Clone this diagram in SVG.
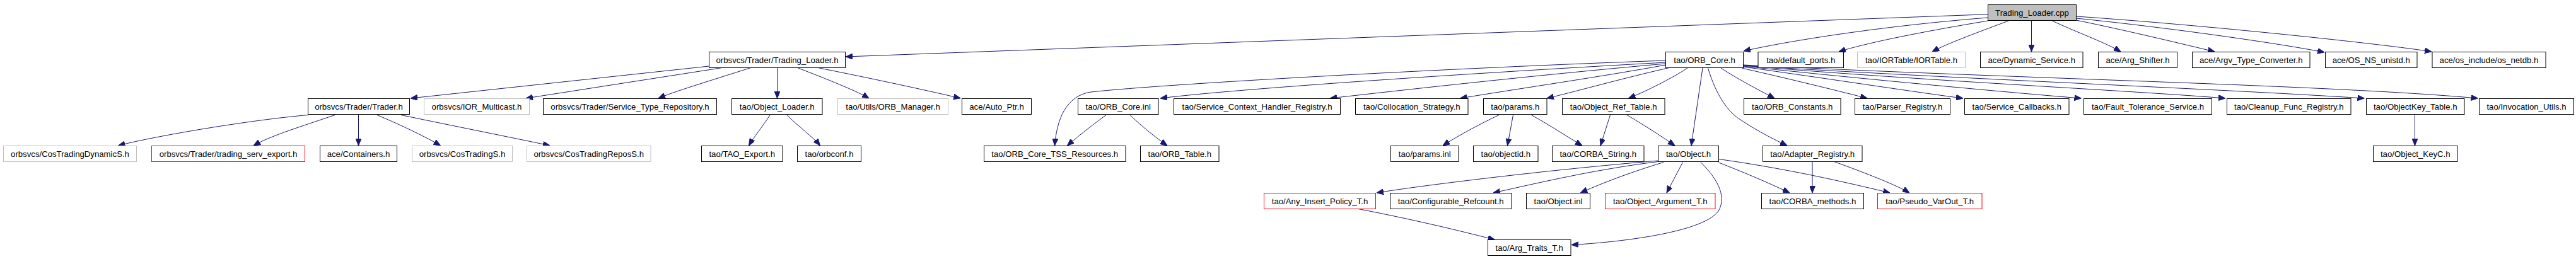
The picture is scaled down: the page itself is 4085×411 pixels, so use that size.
<svg xmlns="http://www.w3.org/2000/svg" width="4085" height="411" viewBox="0 0 4085 411">
<style>
.n rect{fill:#ffffff;stroke:#000000;stroke-width:1}
.n.g rect{stroke:#bfbfbf}
.n.r rect{stroke:#ff0000}
.n.root rect{fill:#bfbfbf;stroke:#000000}
.n text{font-family:"Liberation Sans",Arial,Helvetica,sans-serif;font-size:13.2px;fill:#000000;text-anchor:middle}
#edges path{fill:none;stroke:#191970;stroke-width:1;marker-end:url(#ah)}
</style>
<defs>
<marker id="ah" markerUnits="userSpaceOnUse" markerWidth="11" markerHeight="9" refX="11" refY="4.5" orient="auto">
<path d="M0,0 L11,4.5 L0,9 z" fill="#191970" stroke="#191970" stroke-width="1"/>
</marker>
</defs>
<rect width="4085" height="411" fill="#ffffff"/>
<g id="edges">
<path d="M3152.5,22.7 L1341,90"/>
<path d="M3152.5,28 C3000,40 2850,62 2765,81"/>
<path d="M3152.5,33 C3050,50 2960,68 2916,82"/>
<path d="M3186.5,32.5 C3140,50 3090,68 3064,82"/>
<path d="M3221.5,32.5 L3221.5,82"/>
<path d="M3253.5,32.5 C3290,50 3340,68 3363,82"/>
<path d="M3292.5,32 C3380,50 3470,72 3512,82"/>
<path d="M3292.5,29 C3450,45 3620,70 3686,83"/>
<path d="M3292.5,26 C3500,40 3780,70 3856,82"/>
<path d="M1124.5,105 L651,156"/>
<path d="M1144,107.7 L834,156"/>
<path d="M1190,107.7 C1120,130 1070,145 1044,156"/>
<path d="M1232.5,107.5 L1232.5,156"/>
<path d="M1265,107.7 C1310,125 1360,145 1378,156"/>
<path d="M1298,107.7 C1400,128 1490,148 1523,156"/>
<path d="M488.5,182.5 C400,190 250,215 187.5,231"/>
<path d="M531,182.5 C480,200 430,215 402,231"/>
<path d="M568.5,182 L568.5,231"/>
<path d="M598,182.5 C640,200 680,220 698.5,231"/>
<path d="M636,182.5 C720,200 820,220 872,231"/>
<path d="M1221,182.5 C1210,200 1195,218 1187.5,231"/>
<path d="M1248,182.5 C1265,200 1290,218 1300.5,231"/>
<path d="M2641.5,96 C2300,108 1850,133 1730,146 C1690,152 1676,190 1672.5,231"/>
<path d="M2641.5,99 C2300,118 1950,142 1840,156"/>
<path d="M2641.5,101 C2450,118 2250,140 2109,156"/>
<path d="M2641.5,103 C2550,120 2400,142 2315.5,156"/>
<path d="M2647,107.5 C2570,125 2500,145 2453,156"/>
<path d="M2676,108 C2650,125 2610,145 2582.5,156"/>
<path d="M2700,108 L2682,231"/>
<path d="M2708.5,108 C2718,140 2735,175 2760,190 C2790,210 2815,222 2834,231"/>
<path d="M2729,108 C2760,128 2795,146 2814,156"/>
<path d="M2762,108 C2850,128 2930,148 2961,156"/>
<path d="M2764.5,106 C2900,125 3050,148 3113,156"/>
<path d="M2764.5,105 C2950,125 3200,148 3300.5,156"/>
<path d="M2764.5,104 C3000,125 3400,145 3529,156"/>
<path d="M2764.5,104 C3100,125 3500,140 3749.5,156"/>
<path d="M2764.5,103 C3200,125 3700,135 3929.5,156"/>
<path d="M1754,182.5 C1730,200 1705,220 1692.5,231"/>
<path d="M1792,182.5 C1810,200 1835,220 1851,231"/>
<path d="M2377,182.5 C2340,200 2305,220 2288,231"/>
<path d="M2399.5,182.5 L2390.5,231"/>
<path d="M2428.5,182.5 C2460,200 2490,220 2509,231"/>
<path d="M2553.5,182.5 L2538,231"/>
<path d="M2580,182.5 C2610,200 2640,220 2656,231"/>
<path d="M2629.5,255 C2450,270 2250,295 2183,306"/>
<path d="M2629.5,256.5 C2520,270 2420,295 2368,306"/>
<path d="M2638,257.5 C2580,275 2530,295 2506.5,306"/>
<path d="M2668.5,257.5 L2643,306"/>
<path d="M2697,257.5 C2720,280 2740,310 2725,335 C2700,370 2560,385 2492,388.5"/>
<path d="M2725.5,258 C2770,275 2815,295 2838,306"/>
<path d="M2725.5,252.5 C2850,270 2950,295 2997,306"/>
<path d="M2154,331.5 C2250,350 2330,370 2370.5,380.5"/>
<path d="M2874,256.5 L2874,306"/>
<path d="M2908.5,256.5 C2960,275 3010,295 3028,306"/>
<path d="M3829.5,182.5 L3829.5,231"/>
</g>
<g id="n_root" class="n root"><rect x="3152.5" y="7.5" width="140" height="25"/><text x="3222.5" y="24.5">Trading_Loader.cpp</text></g>
<g id="n_trading_loader_h" class="n"><rect x="1124.5" y="82.5" width="216" height="25"/><text x="1232.5" y="99.5">orbsvcs/Trader/Trading_Loader.h</text></g>
<g id="n_orb_core_h" class="n"><rect x="2641.5" y="82.5" width="123" height="25"/><text x="2703" y="99.5">tao/ORB_Core.h</text></g>
<g id="n_default_ports" class="n"><rect x="2788" y="82.5" width="135.5" height="25"/><text x="2855.75" y="99.5">tao/default_ports.h</text></g>
<g id="n_iortable" class="n g"><rect x="2945.5" y="82.5" width="171" height="25"/><text x="3031" y="99.5">tao/IORTable/IORTable.h</text></g>
<g id="n_dynamic_service" class="n"><rect x="3140.5" y="82.5" width="162.5" height="25"/><text x="3221.75" y="99.5">ace/Dynamic_Service.h</text></g>
<g id="n_arg_shifter" class="n"><rect x="3327.5" y="82.5" width="125" height="25"/><text x="3390" y="99.5">ace/Arg_Shifter.h</text></g>
<g id="n_argv_type_converter" class="n"><rect x="3476.5" y="82.5" width="186.5" height="25"/><text x="3569.75" y="99.5">ace/Argv_Type_Converter.h</text></g>
<g id="n_os_ns_unistd" class="n"><rect x="3687.5" y="82.5" width="145.5" height="25"/><text x="3760.25" y="99.5">ace/OS_NS_unistd.h</text></g>
<g id="n_os_netdb" class="n"><rect x="3857" y="82.5" width="180" height="25"/><text x="3947" y="99.5">ace/os_include/os_netdb.h</text></g>
<g id="n_trader_h" class="n"><rect x="488.5" y="156.5" width="161" height="25"/><text x="569" y="173.5">orbsvcs/Trader/Trader.h</text></g>
<g id="n_ior_multicast" class="n g"><rect x="672.5" y="156.5" width="167" height="25"/><text x="756" y="173.5">orbsvcs/IOR_Multicast.h</text></g>
<g id="n_service_type_repository" class="n"><rect x="861.5" y="156.5" width="275" height="25"/><text x="999" y="173.5">orbsvcs/Trader/Service_Type_Repository.h</text></g>
<g id="n_object_loader" class="n"><rect x="1160.5" y="156.5" width="143.5" height="25"/><text x="1232.25" y="173.5">tao/Object_Loader.h</text></g>
<g id="n_orb_manager" class="n g"><rect x="1328.5" y="156.5" width="175" height="25"/><text x="1416" y="173.5">tao/Utils/ORB_Manager.h</text></g>
<g id="n_auto_ptr" class="n"><rect x="1525.5" y="156.5" width="110" height="25"/><text x="1580.5" y="173.5">ace/Auto_Ptr.h</text></g>
<g id="n_orb_core_inl" class="n"><rect x="1709.5" y="156.5" width="127.5" height="25"/><text x="1773.25" y="173.5">tao/ORB_Core.inl</text></g>
<g id="n_service_context" class="n"><rect x="1861.5" y="156.5" width="264" height="25"/><text x="1993.5" y="173.5">tao/Service_Context_Handler_Registry.h</text></g>
<g id="n_collocation" class="n"><rect x="2149.5" y="156.5" width="178.5" height="25"/><text x="2238.75" y="173.5">tao/Collocation_Strategy.h</text></g>
<g id="n_params_h" class="n"><rect x="2352.5" y="156.5" width="100.5" height="25"/><text x="2402.75" y="173.5">tao/params.h</text></g>
<g id="n_object_ref_table" class="n"><rect x="2477.5" y="156.5" width="162.5" height="25"/><text x="2558.75" y="173.5">tao/Object_Ref_Table.h</text></g>
<g id="n_orb_constants" class="n"><rect x="2765.5" y="156.5" width="153.5" height="25"/><text x="2842.25" y="173.5">tao/ORB_Constants.h</text></g>
<g id="n_parser_registry" class="n"><rect x="2941.5" y="156.5" width="151" height="25"/><text x="3017" y="173.5">tao/Parser_Registry.h</text></g>
<g id="n_service_callbacks" class="n"><rect x="3115.5" y="156.5" width="165.5" height="25"/><text x="3198.25" y="173.5">tao/Service_Callbacks.h</text></g>
<g id="n_fault_tolerance" class="n"><rect x="3304.5" y="156.5" width="203" height="25"/><text x="3406" y="173.5">tao/Fault_Tolerance_Service.h</text></g>
<g id="n_cleanup_func" class="n"><rect x="3531.5" y="156.5" width="196.5" height="25"/><text x="3629.75" y="173.5">tao/Cleanup_Func_Registry.h</text></g>
<g id="n_objectkey_table" class="n"><rect x="3752.5" y="156.5" width="155.5" height="25"/><text x="3830.25" y="173.5">tao/ObjectKey_Table.h</text></g>
<g id="n_invocation_utils" class="n"><rect x="3931.5" y="156.5" width="150" height="25"/><text x="4006.5" y="173.5">tao/Invocation_Utils.h</text></g>
<g id="n_costradingdynamics" class="n g"><rect x="5.5" y="231.5" width="211" height="25"/><text x="111" y="248.5">orbsvcs/CosTradingDynamicS.h</text></g>
<g id="n_trading_serv_export" class="n r"><rect x="240.5" y="231.5" width="243" height="25"/><text x="362" y="248.5">orbsvcs/Trader/trading_serv_export.h</text></g>
<g id="n_containers" class="n"><rect x="507.5" y="231.5" width="122" height="25"/><text x="568.5" y="248.5">ace/Containers.h</text></g>
<g id="n_costradings" class="n g"><rect x="653.5" y="231.5" width="159" height="25"/><text x="733" y="248.5">orbsvcs/CosTradingS.h</text></g>
<g id="n_costradingreposs" class="n g"><rect x="835.5" y="231.5" width="196.5" height="25"/><text x="933.75" y="248.5">orbsvcs/CosTradingReposS.h</text></g>
<g id="n_tao_export" class="n"><rect x="1112.5" y="231.5" width="128.5" height="25"/><text x="1176.75" y="248.5">tao/TAO_Export.h</text></g>
<g id="n_orbconf" class="n"><rect x="1264.5" y="231.5" width="101" height="25"/><text x="1315" y="248.5">tao/orbconf.h</text></g>
<g id="n_tss_resources" class="n"><rect x="1560.5" y="231.5" width="224.5" height="25"/><text x="1672.75" y="248.5">tao/ORB_Core_TSS_Resources.h</text></g>
<g id="n_orb_table" class="n"><rect x="1808.5" y="231.5" width="124.5" height="25"/><text x="1870.75" y="248.5">tao/ORB_Table.h</text></g>
<g id="n_params_inl" class="n"><rect x="2205.5" y="231.5" width="107.5" height="25"/><text x="2259.25" y="248.5">tao/params.inl</text></g>
<g id="n_objectid" class="n"><rect x="2336.5" y="231.5" width="102.5" height="25"/><text x="2387.75" y="248.5">tao/objectid.h</text></g>
<g id="n_corba_string" class="n"><rect x="2461.5" y="231.5" width="145.5" height="25"/><text x="2534.25" y="248.5">tao/CORBA_String.h</text></g>
<g id="n_object_h" class="n"><rect x="2629.5" y="231.5" width="96" height="25"/><text x="2677.5" y="248.5">tao/Object.h</text></g>
<g id="n_adapter_registry" class="n"><rect x="2795.5" y="231.5" width="157.5" height="25"/><text x="2874.25" y="248.5">tao/Adapter_Registry.h</text></g>
<g id="n_object_keyc" class="n"><rect x="3763.5" y="231.5" width="133.5" height="25"/><text x="3830.25" y="248.5">tao/Object_KeyC.h</text></g>
<g id="n_any_insert_policy" class="n r"><rect x="2004.5" y="306.5" width="177" height="25"/><text x="2093" y="323.5">tao/Any_Insert_Policy_T.h</text></g>
<g id="n_configurable_refcount" class="n"><rect x="2204.5" y="306.5" width="192.5" height="25"/><text x="2300.75" y="323.5">tao/Configurable_Refcount.h</text></g>
<g id="n_object_inl" class="n"><rect x="2420.5" y="306.5" width="101" height="25"/><text x="2471" y="323.5">tao/Object.inl</text></g>
<g id="n_object_argument" class="n r"><rect x="2545.5" y="306.5" width="174.5" height="25"/><text x="2632.75" y="323.5">tao/Object_Argument_T.h</text></g>
<g id="n_corba_methods" class="n"><rect x="2793.5" y="306.5" width="162" height="25"/><text x="2874.5" y="323.5">tao/CORBA_methods.h</text></g>
<g id="n_pseudo_varout" class="n r"><rect x="2977.5" y="306.5" width="165.5" height="25"/><text x="3060.25" y="323.5">tao/Pseudo_VarOut_T.h</text></g>
<g id="n_arg_traits" class="n"><rect x="2359.5" y="380.5" width="131.5" height="25"/><text x="2425.25" y="397.5">tao/Arg_Traits_T.h</text></g>
</svg>
